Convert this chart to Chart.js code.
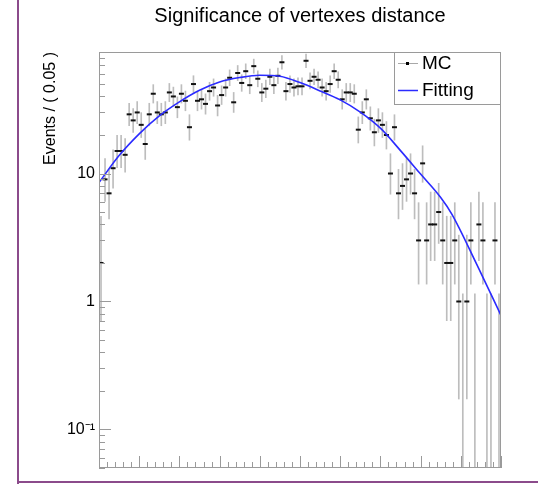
<!DOCTYPE html>
<html>
<head>
<meta charset="utf-8">
<title>Significance of vertexes distance</title>
<script src="https://cdn.jsdelivr.net/npm/chart.js@4.4.1/dist/chart.umd.min.js"></script>
<style>
body{margin:0;background:#fff;}
#page{position:relative;width:538px;height:487px;overflow:hidden;background:#fff;}
#holder{position:absolute;left:0;top:0;width:538px;height:482px;overflow:hidden;}
.edge{position:absolute;background:#8b4b8b;}
</style>
</head>
<body>
<div id="page">
  <div id="holder"><canvas id="chart" width="538" height="500"></canvas></div>
  <div class="edge" style="left:17px;top:0;width:2px;height:484px"></div>
  <div class="edge" style="left:17px;top:481px;width:521px;height:2px"></div>
</div>
<script>
// binning of the histogram (100 bins from 0 to 5)
var binStart = 0;
var binWidth = 0.05;

// MC counts per bin
var counts = [
  2, 9, 7, 11, 15, 15, 14, 29, 26, 30,
  24, 17, 29, 42, 30, 29, 30, 43, 40, 33,
  42, 37, 23, 50, 37, 38, 35, 44, 47, 34,
  41, 47, 56, 36, 61, 51, 63, 49, 69, 55,
  43, 46, 57, 49, 58, 74, 44, 50, 47, 48,
  48, 76, 53, 57, 54, 47, 44, 50, 63, 54,
  38, 43, 43, 42, 22, 30, 38, 27, 21, 26,
  24, 20, 10, 23, 7, 8, 9, 10, 7, 3,
  12, 3, 4, 4, 5, 3, 2, 2, 3, 1,
  0, 1, 3, 0, 4, 3, 0, 0, 3, 0
];

// fitted curve, sampled off the plot
var fitX = [0, 0.25, 0.5, 0.75, 1, 1.25, 1.5, 1.75, 2, 2.25, 2.5, 2.75, 3, 3.25, 3.5, 3.75, 4, 4.25, 4.39, 4.7, 5];
var fitY = [8.5, 13.8, 20.4, 28.2, 36.3, 44.7, 51.9, 56.2, 58.6, 57.5, 51.3, 44.2, 37.6, 30.2, 22.6, 15.1, 9.9, 6.5, 4.8, 1.94, 0.78];

var xTicks = [0, 0.5, 1, 1.5, 2, 2.5, 3, 3.5, 4, 4.5, 5];
var yTicks = [0.1, 1, 10];
var yTickLabels = ['10\u207B\u00B9', '1', '10'];

// 68% poisson intervals for small counts
var poisLow = [0, 0.173, 0.708, 1.367, 2.086, 2.840, 3.620, 4.419, 5.232, 6.057, 6.891];
var poisHigh = [1.148, 3.300, 4.638, 5.918, 7.163, 8.382, 9.584, 10.77, 11.95, 13.11, 14.27];
function errLow(n){
  // log axis cannot take 0, go below the frame instead (it gets clipped)
  if (n === 0) return 0.001;
  return n <= 10 ? poisLow[n] : n - Math.sqrt(n);
}
function errHigh(n){ return n <= 10 ? poisHigh[n] : n + Math.sqrt(n) + 1; }

var font = 'Liberation Sans, Arial, Helvetica, sans-serif';

var mcPoints = [], mcErrors = [], fitPoints = [];
for (var i = 0; i < counts.length; i++) {
  var xc = binStart + binWidth * (i + 0.5);
  if (counts[i] > 0) mcPoints.push({x: xc, y: counts[i]});
  mcErrors.push({x: xc, y: [errLow(counts[i]), errHigh(counts[i])]});
}
for (var j = 0; j < fitX.length; j++) fitPoints.push({x: fitX[j], y: fitY[j]});

// frame, inner ticks and legend box like ROOT
var framePlugin = {
  id: 'frame',
  afterDraw: function(chart) {
    var ctx = chart.ctx, a = chart.chartArea;
    var xs = chart.scales.x, ys = chart.scales.y;
    ctx.save();
    ctx.strokeStyle = '#9a9a9a';
    ctx.lineWidth = 1;
    ctx.strokeRect(a.left + 0.5, a.top + 0.5, a.right - a.left - 1, a.bottom - a.top - 1);
    ctx.beginPath();
    for (var k = 0; k <= 50; k++) {
      var px = Math.round(xs.getPixelForValue(k / 10)) + 0.5;
      var len = (k % 5 === 0) ? 12 : 6;
      ctx.moveTo(px, a.bottom);
      ctx.lineTo(px, a.bottom - len);
    }
    for (var d = -2; d <= 1; d++) {
      for (var m = 1; m <= 9; m++) {
        var v = m * Math.pow(10, d);
        if (v < ys.min || v > ys.max) continue;
        var py = Math.round(ys.getPixelForValue(v)) + 0.5;
        ctx.moveTo(a.left, py);
        ctx.lineTo(a.left + (m === 1 ? 12 : 6), py);
      }
    }
    ctx.stroke();

    // legend
    var w = 107, h = 52;
    var lx = a.right - w, ly = a.top;
    ctx.fillStyle = '#fff';
    ctx.fillRect(lx, ly, w, h);
    ctx.strokeStyle = '#9a9a9a';
    ctx.strokeRect(lx + 0.5, ly + 0.5, w - 1, h);
    ctx.strokeStyle = '#a8a8a8';
    ctx.beginPath();
    ctx.moveTo(lx + 4, ly + 11.5);
    ctx.lineTo(lx + 24, ly + 11.5);
    ctx.stroke();
    ctx.fillStyle = '#000';
    ctx.fillRect(lx + 12, ly + 10, 3, 3);
    ctx.strokeStyle = '#2b2bff';
    ctx.lineWidth = 1.5;
    ctx.beginPath();
    ctx.moveTo(lx + 4, ly + 38.5);
    ctx.lineTo(lx + 24, ly + 38.5);
    ctx.stroke();
    ctx.fillStyle = '#000';
    ctx.font = '19px ' + font;
    ctx.textBaseline = 'middle';
    ctx.textAlign = 'left';
    ctx.fillText('MC', lx + 28, ly + 12);
    ctx.fillText('Fitting', lx + 28, ly + 39);
    ctx.restore();
  }
};

new Chart(document.getElementById('chart'), {
  type: 'scatter',
  data: {
    datasets: [
      {
        type: 'line',
        label: 'Fitting',
        data: fitPoints,
        borderColor: '#2b2bff',
        borderWidth: 1.6,
        pointRadius: 0,
        fill: false,
        cubicInterpolationMode: 'monotone',
        order: 0
      },
      {
        type: 'scatter',
        label: 'MC',
        data: mcPoints,
        pointStyle: 'line',
        pointRadius: 2.5,
        pointBorderWidth: 2,
        borderColor: '#111',
        backgroundColor: '#111',
        order: 1
      },
      {
        type: 'bar',
        label: 'MC errors',
        data: mcErrors,
        barThickness: 1,
        backgroundColor: '#bdbdbd',
        borderWidth: 0,
        grouped: false,
        order: 2
      }
    ]
  },
  options: {
    responsive: false,
    animation: false,
    devicePixelRatio: 1,
    layout: { padding: { left: 0, right: 37, top: 0, bottom: 0 } },
    plugins: {
      legend: { display: false },
      tooltip: { enabled: false },
      title: {
        display: true,
        fullSize: false,
        text: 'Significance of vertexes distance',
        color: '#000',
        font: { family: font, size: 20, weight: 'normal' },
        padding: { top: 4, bottom: 24 }
      }
    },
    scales: {
      x: {
        type: 'linear',
        position: 'bottom',
        offset: false,
        min: 0,
        max: 5,
        afterBuildTicks: function(s) { s.ticks = xTicks.map(function(v){ return {value: v}; }); },
        afterFit: function(s) { s.height = 32; },
        grid: { display: false, drawTicks: false, offset: false },
        border: { display: false },
        ticks: {
          autoSkip: false,
          maxRotation: 0,
          padding: 11,
          color: '#000',
          font: { family: font, size: 16 },
          callback: function(v) { return String(v); }
        }
      },
      y: {
        type: 'logarithmic',
        position: 'left',
        min: 0.05,
        max: 89,
        afterBuildTicks: function(s) { s.ticks = yTicks.map(function(v){ return {value: v}; }); },
        afterFit: function(s) { s.width = 99; },
        grid: { display: false, drawTicks: false },
        border: { display: false },
        ticks: {
          autoSkip: false,
          padding: 4,
          color: '#000',
          font: { family: font, size: 16 },
          callback: function(v) { return yTickLabels[yTicks.indexOf(v)]; }
        },
        title: {
          display: true,
          text: 'Events / ( 0.05 )',
          align: 'end',
          color: '#000',
          font: { family: font, size: 16 },
          padding: { top: 41, bottom: 0 }
        }
      }
    }
  },
  plugins: [framePlugin]
});
</script>
</body>
</html>
